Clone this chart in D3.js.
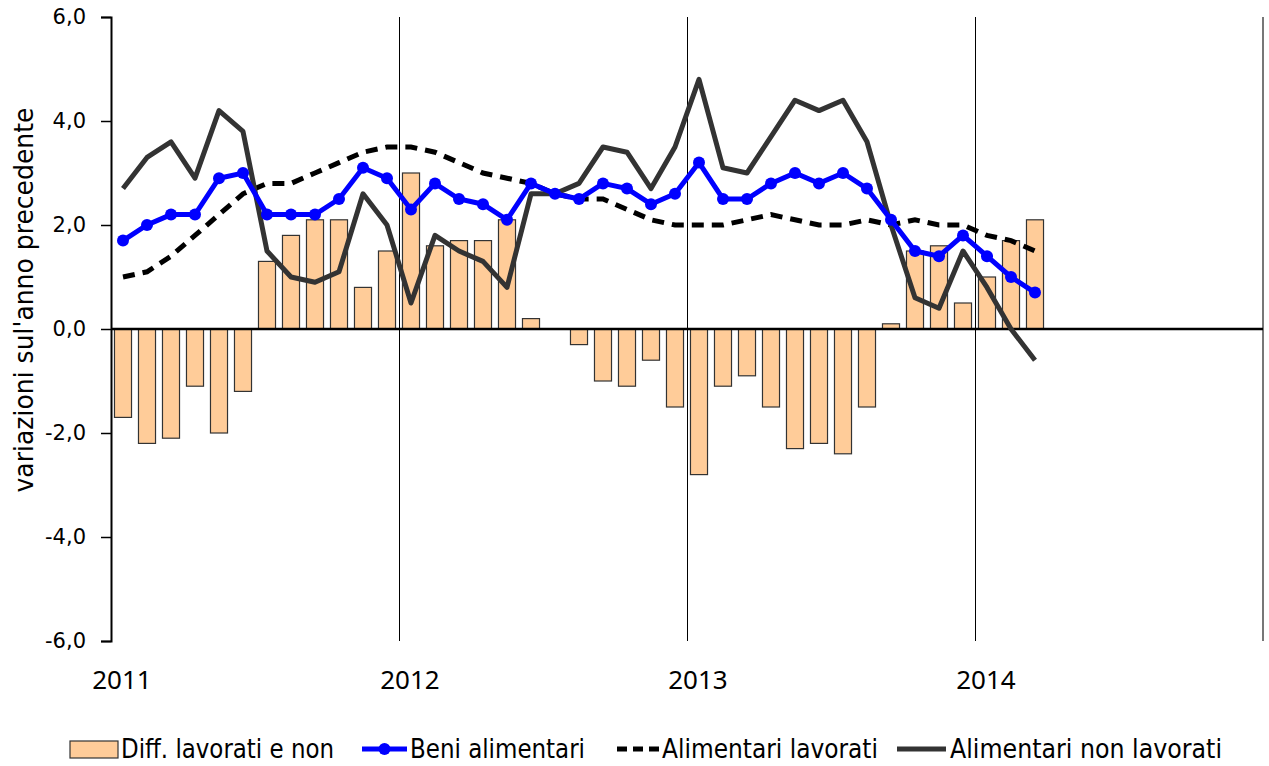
<!DOCTYPE html>
<html>
<head>
<meta charset="utf-8">
<script src="https://cdn.jsdelivr.net/npm/d3@7"></script>
<style>
  body { margin: 0; background: #fff; }
  svg { display: block; }
</style>
</head>
<body>
<svg id="chart"></svg>
<script>
// month slots Jan 2011 .. Dec 2014 (data runs Jan 2011 .. Mar 2014)
var years = ['2011', '2012', '2013', '2014'];
var yTicks = [-6, -4, -2, 0, 2, 4, 6];

var diffLavorati = [-1.7, -2.2, -2.1, -1.1, -2.0, -1.2, 1.3, 1.8, 2.1, 2.1, 0.8, 1.5,
                    3.0, 1.6, 1.7, 1.7, 2.1, 0.2, 0.0, -0.3, -1.0, -1.1, -0.6, -1.5,
                    -2.8, -1.1, -0.9, -1.5, -2.3, -2.2, -2.4, -1.5, 0.1, 1.5, 1.6, 0.5,
                    1.0, 1.7, 2.1];
var beniAlimentari = [1.7, 2.0, 2.2, 2.2, 2.9, 3.0, 2.2, 2.2, 2.2, 2.5, 3.1, 2.9,
                      2.3, 2.8, 2.5, 2.4, 2.1, 2.8, 2.6, 2.5, 2.8, 2.7, 2.4, 2.6,
                      3.2, 2.5, 2.5, 2.8, 3.0, 2.8, 3.0, 2.7, 2.1, 1.5, 1.4, 1.8,
                      1.4, 1.0, 0.7];
var alimLavorati = [1.0, 1.1, 1.4, 1.8, 2.2, 2.6, 2.8, 2.8, 3.0, 3.2, 3.4, 3.5,
                    3.5, 3.4, 3.2, 3.0, 2.9, 2.8, 2.6, 2.5, 2.5, 2.3, 2.1, 2.0,
                    2.0, 2.0, 2.1, 2.2, 2.1, 2.0, 2.0, 2.1, 2.0, 2.1, 2.0, 2.0,
                    1.8, 1.7, 1.5];
var alimNonLavorati = [2.7, 3.3, 3.6, 2.9, 4.2, 3.8, 1.5, 1.0, 0.9, 1.1, 2.6, 2.0,
                       0.5, 1.8, 1.5, 1.3, 0.8, 2.6, 2.6, 2.8, 3.5, 3.4, 2.7, 3.5,
                       4.8, 3.1, 3.0, 3.7, 4.4, 4.2, 4.4, 3.6, 2.0, 0.6, 0.4, 1.5,
                       0.8, 0.0, -0.6];

var screen = { width: 1269, height: 766 };
var margins = { top: 17, left: 111, right: 6, bottom: 125 };

var svg = d3.select('#chart')
  .attr('width', screen.width)
  .attr('height', screen.height);

var narrow = '"Liberation Sans Narrow", "DejaVu Sans Condensed", "Liberation Sans", sans-serif';

var xScale = d3.scaleBand()
  .domain(d3.range(years.length * 12))
  .range([margins.left, screen.width - margins.right])
  .paddingInner(0.29)
  .paddingOuter(0.145);

var step = xScale.step();
var xStart = margins.left;
var xMid = function(i) { return xScale(i) + xScale.bandwidth() / 2; };

var yScale = d3.scaleLinear()
  .domain([-6, 6])
  .range([screen.height - margins.bottom, margins.top]);

// year separator lines
svg.selectAll('line.year')
  .data(d3.range(1, years.length + 1))
  .enter()
  .append('line')
  .attr('class', 'year')
  .attr('x1', function(d) { return xStart + d * 12 * step; })
  .attr('x2', function(d) { return xStart + d * 12 * step; })
  .attr('y1', yScale(6))
  .attr('y2', yScale(-6))
  .attr('stroke', function(d) { return d == years.length ? '#777' : '#000'; })
  .attr('stroke-width', function(d) { return d == years.length ? 1.5 : 1; })
  .attr('shape-rendering', 'crispEdges');

// year labels
svg.selectAll('text.year')
  .data(years)
  .enter()
  .append('text')
  .attr('class', 'year')
  .attr('x', function(d, i) { return xStart + i * 12 * step + 11; })
  .attr('y', 689)
  .attr('text-anchor', 'middle')
  .attr('font-family', '"Noto Sans", "Open Sans", sans-serif')
  .attr('font-size', '26px')
  .attr('fill', '#000')
  .text(function(d) { return d; });

// y axis
var yAxis = d3.axisLeft(yScale)
  .tickValues(yTicks)
  .tickSize(10)
  .tickPadding(15)
  .tickFormat(function(d) { return d3.format('.1f')(d).replace('.', ',').replace('−', '-'); });

var gy = svg.append('g')
  .attr('transform', 'translate(' + margins.left + ',0)')
  .call(yAxis);
gy.select('.domain').attr('stroke', '#000').attr('stroke-width', 2);
gy.selectAll('.tick line').attr('stroke', '#000').attr('stroke-width', 1.5);
gy.selectAll('.tick text')
  .attr('font-family', '"DejaVu Sans", Verdana, sans-serif')
  .attr('font-size', '21px')
  .attr('fill', '#000');

svg.append('text')
  .attr('transform', 'translate(33,300) rotate(-90)')
  .attr('text-anchor', 'middle')
  .attr('font-family', narrow)
  .attr('font-size', '26px')
  .attr('textLength', 385)
  .attr('lengthAdjust', 'spacingAndGlyphs')
  .attr('fill', '#000')
  .text("variazioni sul'anno precedente");

// bars
svg.selectAll('rect.bar')
  .data(diffLavorati)
  .enter()
  .append('rect')
  .attr('class', 'bar')
  .attr('x', function(d, i) { return xScale(i); })
  .attr('width', xScale.bandwidth())
  .attr('y', function(d) { return yScale(Math.max(0, d)); })
  .attr('height', function(d) { return Math.abs(yScale(d) - yScale(0)); })
  .attr('fill', '#FFCC99')
  .attr('stroke', '#333')
  .attr('stroke-width', 1.2);

// zero line
svg.append('line')
  .attr('x1', margins.left)
  .attr('x2', screen.width - margins.right)
  .attr('y1', yScale(0))
  .attr('y2', yScale(0))
  .attr('stroke', '#000')
  .attr('stroke-width', 2.5);

var line = d3.line()
  .x(function(d, i) { return xMid(i); })
  .y(function(d) { return yScale(d); });

svg.append('path')
  .datum(alimLavorati)
  .attr('d', line)
  .attr('fill', 'none')
  .attr('stroke', '#000')
  .attr('stroke-width', 5)
  .attr('stroke-dasharray', '12,8');

svg.append('path')
  .datum(alimNonLavorati)
  .attr('d', line)
  .attr('fill', 'none')
  .attr('stroke', '#333')
  .attr('stroke-width', 5)
  .attr('stroke-linejoin', 'round');

svg.append('path')
  .datum(beniAlimentari)
  .attr('d', line)
  .attr('fill', 'none')
  .attr('stroke', '#0000FF')
  .attr('stroke-width', 5);

svg.selectAll('circle.beni')
  .data(beniAlimentari)
  .enter()
  .append('circle')
  .attr('class', 'beni')
  .attr('cx', function(d, i) { return xMid(i); })
  .attr('cy', function(d) { return yScale(d); })
  .attr('r', 6)
  .attr('fill', '#0000FF');

// legend
var legY = 749;
var legend = [
  { label: 'Diff. lavorati e non', kind: 'bar', x0: 70, x1: 118, tx: 121, tl: 213 },
  { label: 'Beni alimentari', kind: 'marker', x0: 362, x1: 407, tx: 410, tl: 175 },
  { label: 'Alimentari lavorati', kind: 'dash', x0: 617, x1: 660, tx: 662, tl: 216 },
  { label: 'Alimentari non lavorati', kind: 'solid', x0: 897, x1: 946, tx: 950, tl: 272 }
];

legend.forEach(function(d) {
  if (d.kind == 'bar') {
    svg.append('rect')
      .attr('x', d.x0).attr('y', legY - 8)
      .attr('width', d.x1 - d.x0).attr('height', 17)
      .attr('fill', '#FFCC99').attr('stroke', '#333').attr('stroke-width', 1.2);
  } else {
    svg.append('line')
      .attr('x1', d.x0).attr('x2', d.x1)
      .attr('y1', legY).attr('y2', legY)
      .attr('stroke', d.kind == 'marker' ? '#0000FF' : (d.kind == 'dash' ? '#000' : '#333'))
      .attr('stroke-width', 5)
      .attr('stroke-dasharray', d.kind == 'dash' ? '10,6' : null);
    if (d.kind == 'marker') {
      svg.append('circle')
        .attr('cx', (d.x0 + d.x1) / 2).attr('cy', legY)
        .attr('r', 6).attr('fill', '#0000FF');
    }
  }
  svg.append('text')
    .attr('x', d.tx)
    .attr('y', legY + 9)
    .attr('font-family', narrow)
    .attr('font-size', '26px')
    .attr('textLength', d.tl)
    .attr('lengthAdjust', 'spacingAndGlyphs')
    .attr('fill', '#000')
    .text(d.label);
});
</script>
</body>
</html>
